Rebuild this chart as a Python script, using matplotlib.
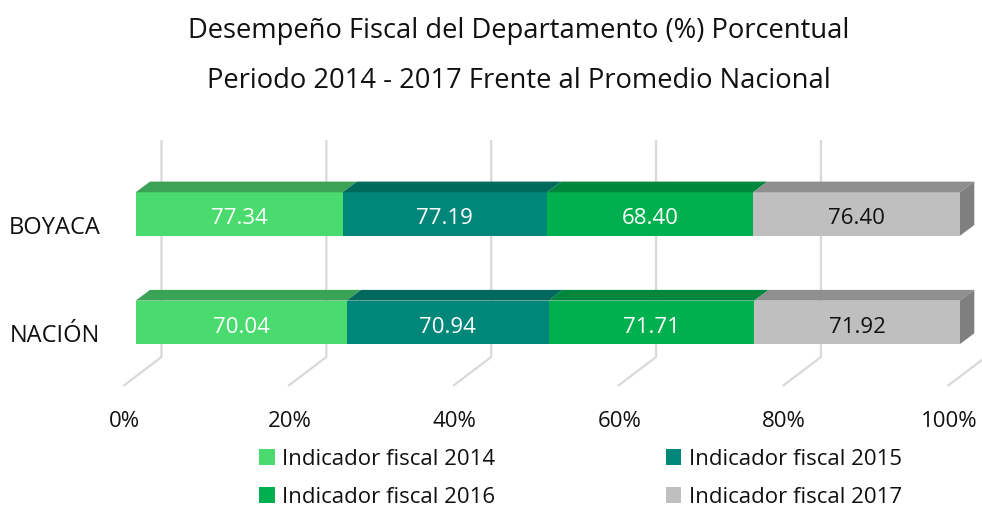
import matplotlib
matplotlib.use("Agg")
import matplotlib.pyplot as plt
from matplotlib.patches import Polygon, Patch

# ---------------- data ----------------
categories = ["BOYACA", "NACIÓN"]
series_names = ["Indicador fiscal 2014", "Indicador fiscal 2015",
                "Indicador fiscal 2016", "Indicador fiscal 2017"]
boyaca_labels = ["77.34", "77.19", "68.40", "76.40"]
nacion_labels = ["70.04", "70.94", "71.71", "71.92"]
# segment shares (%) as drawn in the picture
boyaca_share = [25.1, 24.8, 25.0, 25.1]
nacion_share = [25.6, 24.5, 24.95, 24.95]
tick_values = [0, 20, 40, 60, 80, 100]
tick_labels = ["0%", "20%", "40%", "60%", "80%", "100%"]
title_lines = ["Desempeño Fiscal del Departamento (%) Porcentual",
               "Periodo 2014 - 2017 Frente al Promedio Nacional"]

# ---------------- style ----------------
front_colors = ["#4ADB6E", "#00877A", "#00B04F", "#BFBFBF"]
top_colors = ["#3AA356", "#00695E", "#00873D", "#8F8F8F"]
side_color = "#7F7F7F"
label_colors = ["white", "white", "white", "#111111"]
grid_color = "#D9D9D9"
FONT = "Open Sans"
plt.rcParams["font.family"] = [FONT, "DejaVu Sans"]

W, H = 982, 508
fig = plt.figure(figsize=(W / 100, H / 100), dpi=100)
ax = fig.add_axes([0, 0, 1, 1])
ax.axis("off")

# pixel geometry of the plot
x0px, x100px = 135.7, 960.0
sx = (x100px - x0px) / 100.0
y0px, y1px = 322.3, 214.0          # centres of NACIÓN (0) and BOYACA (1), from top
sy = y0px - y1px
ax.set_xlim(-x0px / sx, (W - x0px) / sx)
ax.set_ylim((y0px - H) / sy, y0px / sy)

def dxu(px):
    return px / sx

def ypx(p):
    return (y0px - p) / sy

bar_h = 43.4 / sy
depth_dx, depth_dy = dxu(14.3), 10.7 / sy

# gridlines (back wall + floor)
back_dx = dxu(25.8)
floor_dx = dxu(-12.5)
for t in tick_values:
    ax.plot([t + back_dx, t + back_dx, t + floor_dx],
            [ypx(140), ypx(357), ypx(386)],
            color=grid_color, lw=1.6, zorder=1, solid_capstyle="butt")

# bars
ypos = [1, 0]
shares = [boyaca_share, nacion_share]
labels = [boyaca_labels, nacion_labels]
label_base = 10.5 / sy          # baseline offset below bar centre
for yi, sh, lab in zip(ypos, shares, labels):
    left = 0.0
    for i, w in enumerate(sh):
        ax.barh(yi, w, left=left, height=bar_h, color=front_colors[i],
                edgecolor="none", zorder=3)
        top = yi + bar_h / 2
        ax.add_patch(Polygon([(left, top), (left + w, top),
                              (left + w + depth_dx, top + depth_dy),
                              (left + depth_dx, top + depth_dy)],
                             closed=True, facecolor=top_colors[i],
                             edgecolor="none", zorder=3))
        ax.text(left + w / 2, yi - label_base, lab[i], ha="center",
                va="baseline", fontsize=16, color=label_colors[i], zorder=5)
        left += w
    bot = yi - bar_h / 2
    top = yi + bar_h / 2
    ax.add_patch(Polygon([(left, bot), (left, top),
                          (left + depth_dx, top + depth_dy),
                          (left + depth_dx, bot + depth_dy)],
                         closed=True, facecolor=side_color,
                         edgecolor="none", zorder=3))

# category labels
for yi, c in zip(ypos, categories):
    ax.text(dxu(100.5 - x0px), yi - 19.5 / sy, c, ha="right", va="baseline",
            fontsize=17, color="#111111")

# tick labels
for t, tl in zip(tick_values, tick_labels):
    ax.text(t + floor_dx + dxu(1.5), ypx(427), tl, ha="center", va="baseline",
            fontsize=16, color="#111111")

# title
for k, line in enumerate(title_lines):
    ax.text(dxu(519 - x0px), ypx(38 + 49.5 * k), line, ha="center",
            va="baseline", fontsize=19.7, color="#111111")

# legend (row-major order: 2014, 2015 / 2016, 2017)
handles = [Patch(facecolor=c, edgecolor="none") for c in front_colors]
order = [0, 2, 1, 3]
fig.legend([handles[i] for i in order], [series_names[i] for i in order],
           ncol=2, frameon=False, fontsize=16,
           loc="upper left",
           bbox_to_anchor=(259 / W, 1 - 449 / H - 0.1, (902 - 259) / W, 0.1),
           mode="expand", handlelength=0.7, handleheight=0.7,
           handletextpad=0.35, labelspacing=0.76, borderpad=0,
           borderaxespad=0, labelcolor="#111111")

fig.savefig("out.png", dpi=100)
